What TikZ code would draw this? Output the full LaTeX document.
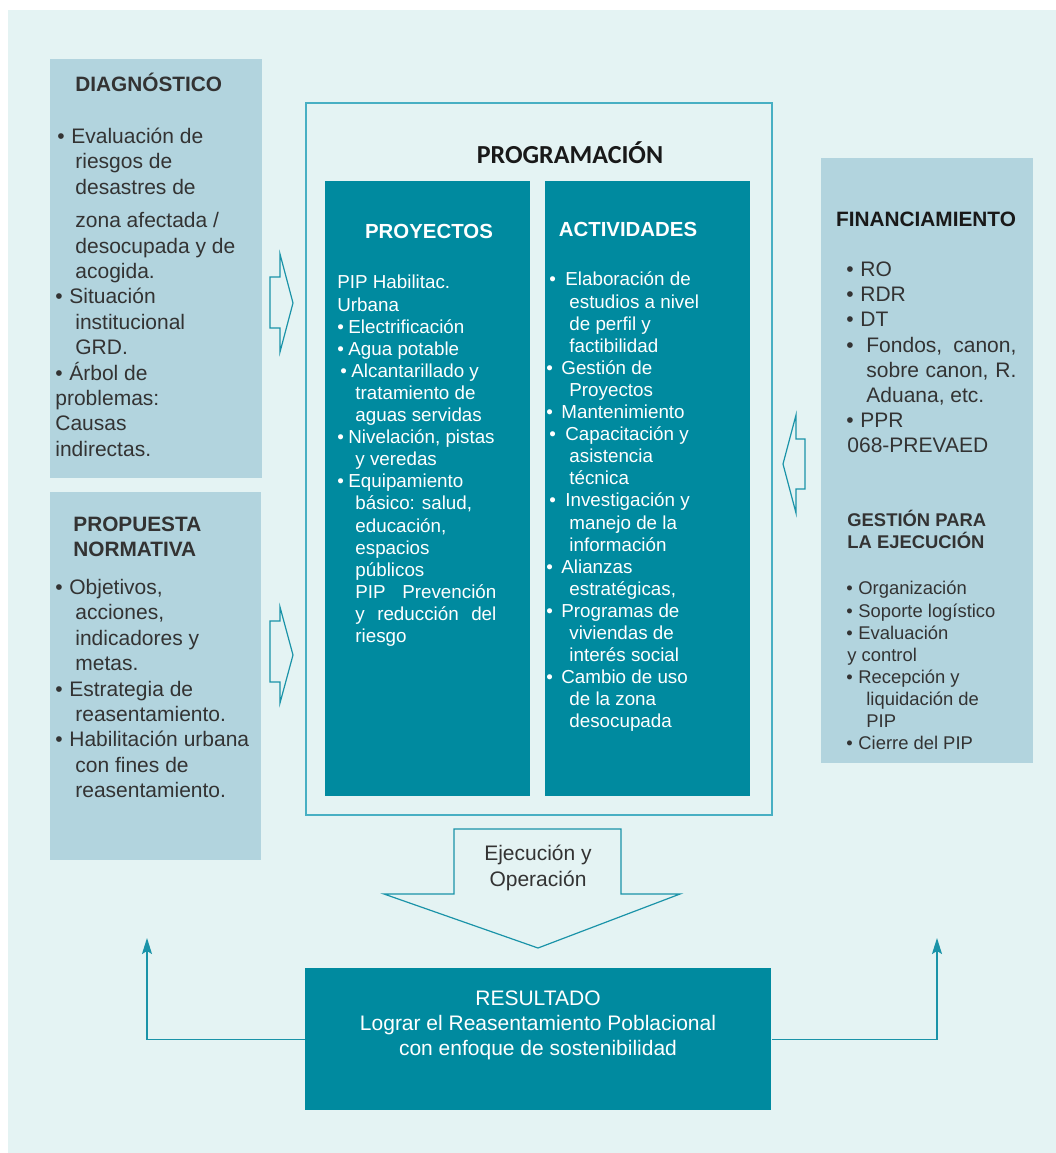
\documentclass[tikz,border=0pt]{standalone}
\usepackage{fontspec}
\setmainfont{Liberation Sans}
\newfontfamily\calibri{Carlito}
\usetikzlibrary{arrows.meta}

\definecolor{bgmint}{HTML}{E4F3F3}
\definecolor{panelblue}{HTML}{B2D4DE}
\definecolor{tealbox}{HTML}{008A9F}
\definecolor{framecol}{HTML}{47AFC3}
\definecolor{arrowcol}{HTML}{1A93A8}
\definecolor{txtgray}{HTML}{333333}

\newcommand\bul[1]{\makebox[#1][l]{\textbullet}}
\newcommand\ind[1]{\hspace*{#1}}
\newcommand\topstrut{\rule{0pt}{1em}}

\tikzset{
    panel/.style={fill=panelblue, inner sep=0pt, anchor=north west},
    column/.style={fill=tealbox, inner sep=0pt, anchor=north west},
    ptitle/.style={font=\bfseries\fontsize{10.4}{12.5}\selectfont, text=txtgray, align=left, inner sep=0pt, anchor=base west},
    plist/.style={font=\fontsize{10.5}{12.7}\selectfont, text=txtgray, align=left, inner sep=0pt, anchor=north west},
    clist/.style={font=\fontsize{9.4}{11.05}\selectfont, text=white, align=left, inner sep=0pt, anchor=north west},
    ctitle/.style={font=\bfseries\fontsize{10.2}{12}\selectfont, text=white, inner sep=0pt, anchor=base},
    glist/.style={font=\fontsize{9.2}{11.05}\selectfont, text=txtgray, align=left, inner sep=0pt, anchor=north west},
    blockarrow/.style={draw=arrowcol, line width=0.6pt, line join=miter},
    feedback/.style={draw=arrowcol, line width=0.7pt, -{Stealth[length=8pt, width=5pt, inset=1.5pt]}}
}

\begin{document}
\begin{tikzpicture}[x=0.5pt, y=-0.5pt]
    \useasboundingbox (0,0) rectangle (1056,1153);
    \fill[bgmint] (8,10) rectangle (1056,1153);

    \node[panel, minimum width=106pt, minimum height=209.5pt] (diag) at (50,59) {};
    \node[panel, minimum width=105.5pt, minimum height=184pt] (prop) at (50,492) {};
    \node[panel, minimum width=106pt, minimum height=302.5pt] (fin) at (821,158) {};
    \node[draw=framecol, line width=0.8pt, inner sep=0pt, anchor=north west,
          minimum width=233pt, minimum height=356pt] (prog) at (305,102) {};
    \node[column, minimum width=102.5pt, minimum height=307.5pt] (proy) at (325,181) {};
    \node[column, minimum width=102.5pt, minimum height=307.5pt] (act) at (545,181) {};
    \node[column, minimum width=233pt, minimum height=71pt] (res) at (305,968) {};

    \node[ptitle] (diagT) at (75,91) {DIAGNÓSTICO};
    \node[plist] (diagL) at (55,122) {\topstrut\ind{1pt}\bul{7pt}Evaluación de\\
        \ind{10pt}riesgos de\\
        \ind{10pt}desastres de\\[4pt]
        \ind{10pt}zona afectada /\\
        \ind{10pt}desocupada y de\\
        \ind{10pt}acogida.\\
        \bul{7pt}Situación\\
        \ind{10pt}institucional\\
        \ind{10pt}GRD.\\
        \bul{7pt}Árbol de\\
        problemas:\\
        Causas\\
        indirectas.};

    \node[ptitle, anchor=north west] (propT) at (73,510.2) {\topstrut PROPUESTA\\NORMATIVA};
    \node[plist] (propL) at (55,573) {\topstrut\bul{7pt}Objetivos,\\
        \ind{10pt}acciones,\\
        \ind{10pt}indicadores y\\
        \ind{10pt}metas.\\
        \bul{7pt}Estrategia de\\
        \ind{10pt}reasentamiento.\\
        \bul{7pt}Habilitación urbana\\
        \ind{10pt}con fines de\\
        \ind{10pt}reasentamiento.};

    \node[font=\calibri\bfseries\fontsize{13}{15}\selectfont, text=black!90, inner sep=0pt, anchor=base] (progT) at (570,163) {PROGRAMACIÓN};

    \node[ctitle] (proyT) at (429,238) {PROYECTOS};
    \node[clist] (proyL) at (337,269.7) {\topstrut PIP Habilitac.\\
        Urbana\\
        \bul{5.5pt}Electrificación\\
        \bul{5.5pt}Agua potable\\
        \ind{1.5pt}\bul{5.5pt}Alcantarillado y\\
        \ind{9pt}tratamiento de\\
        \ind{9pt}aguas servidas\\
        \bul{5.5pt}Nivelación, pistas\\
        \ind{9pt}y veredas\\
        \bul{5.5pt}Equipamiento\\
        \ind{9pt}básico: salud,\\
        \ind{9pt}educación,\\
        \ind{9pt}espacios\\
        \ind{9pt}públicos\\
        \ind{9pt}\makebox[70.5pt][s]{PIP Prevención}\\
        \ind{9pt}\makebox[70.5pt][s]{y reducción del}\\
        \ind{9pt}riesgo};

    \node[ctitle] (actT) at (628,236) {ACTIVIDADES};
    \node[clist] (actL) at (541,266.7) {\topstrut\ind{4pt}\bul{8pt}Elaboración de\\
        \ind{14pt}estudios a nivel\\
        \ind{14pt}de perfil y\\
        \ind{14pt}factibilidad\\
        \ind{2.5pt}\bul{7.5pt}Gestión de\\
        \ind{14pt}Proyectos\\
        \ind{2.5pt}\bul{7.5pt}Mantenimiento\\
        \ind{4pt}\bul{8pt}Capacitación y\\
        \ind{14pt}asistencia\\
        \ind{14pt}técnica\\
        \ind{4pt}\bul{8pt}Investigación y\\
        \ind{14pt}manejo de la\\
        \ind{14pt}información\\
        \ind{2.5pt}\bul{7.5pt}Alianzas\\
        \ind{14pt}estratégicas,\\
        \ind{2.5pt}\bul{7.5pt}Programas de\\
        \ind{14pt}viviendas de\\
        \ind{14pt}interés social\\
        \ind{2.5pt}\bul{7.5pt}Cambio de uso\\
        \ind{14pt}de la zona\\
        \ind{14pt}desocupada};

    \node[ptitle, text=black!90, anchor=base] (finT) at (926,226.5) {FINANCIAMIENTO};
    \node[plist, font=\fontsize{10.5}{12.6}\selectfont] (finL) at (846,255) {\topstrut\bul{7pt}RO\\
        \bul{7pt}RDR\\
        \bul{7pt}DT\\
        \bul{10pt}\makebox[75pt][s]{Fondos, canon,}\\
        \ind{10pt}\makebox[75pt][s]{sobre canon, R.}\\
        \ind{10pt}Aduana, etc.\\
        \bul{7pt}PPR\\
        \ind{0.5pt}068-PREVAED};
    \node[glist, font=\bfseries\fontsize{9.2}{11}\selectfont] (gestT) at (847,508.1) {\topstrut GESTIÓN PARA\\LA EJECUCIÓN};
    \node[glist] (gestL) at (846,576.1) {\topstrut\bul{6pt}Organización\\
        \bul{6pt}Soporte logístico\\
        \bul{6pt}Evaluación\\
        \ind{0.5pt}y control\\
        \bul{6pt}Recepción y\\
        \ind{10pt}liquidación de\\
        \ind{10pt}PIP\\
        \bul{6pt}Cierre del PIP};

    \draw[blockarrow] (270,277) -- (280,277) -- (280,254) -- (293,303) -- (280,352) -- (280,328) -- (270,328) -- cycle;
    \draw[blockarrow] (270,621) -- (280,621) -- (280,607) -- (293,655) -- (280,703) -- (280,682) -- (270,682) -- cycle;
    \draw[blockarrow] (805,439) -- (796,439) -- (796,415) -- (783,464) -- (796,513) -- (796,489) -- (805,489) -- cycle;
    \draw[blockarrow] (454,829) -- (621,829) -- (621,894) -- (680,894) -- (538,948) -- (384,894) -- (454,894) -- cycle;
    \node[font=\fontsize{10.5}{13}\selectfont, text=txtgray, align=center, inner sep=0pt, anchor=north] (ejec) at (538,839) {\topstrut Ejecución y\\Operación};

    \node[font=\fontsize{10.5}{12.5}\selectfont, text=white, align=center, inner sep=0pt, anchor=north] (resT) at (538,984)
        {\topstrut RESULTADO\\Lograr el Reasentamiento Poblacional\\con enfoque de sostenibilidad};

    \coordinate (fbL) at (147,938);
    \coordinate (fbR) at (937,938);
    \draw[feedback] (res.west) -| (fbL);
    \draw[feedback] (res.east) -| (fbR);
\end{tikzpicture}
\end{document}
